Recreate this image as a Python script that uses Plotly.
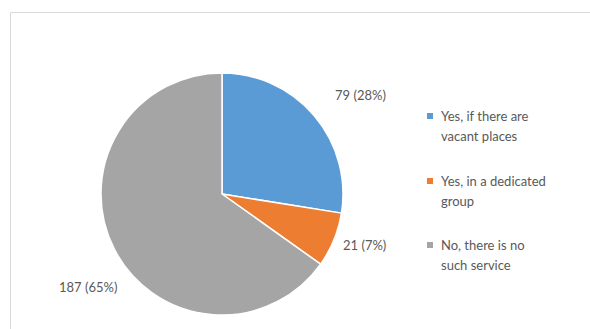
import math
import plotly.graph_objects as go

categories = ["Yes, if there are vacant places", "Yes, in a dedicated group", "No, there is no such service"]
legend_lines = [["Yes, if there are", "vacant places"], ["Yes, in a dedicated", "group"], ["No, there is no", "such service"]]
values = [79, 21, 187]
colors = ["#5B9BD5", "#ED7D31", "#A5A5A5"]

W, H = 590, 329
cx, cy, r = 222, 194, 121
TXT = "#595959"
FONT = "Lato"

fig = go.Figure(go.Pie(
    labels=categories, values=values, sort=False, direction="clockwise", rotation=0,
    marker=dict(colors=colors, line=dict(color="white", width=1.5)),
    textinfo="none", hoverinfo="label+value+percent", showlegend=False,
    domain=dict(x=[(cx - r) / W, (cx + r) / W], y=[1 - (cy + r) / H, 1 - (cy - r) / H]),
))

total = sum(values)
annotations = []
cum = 0
label_r = [1.41, 1.25, 1.35]
label_da = [5.0, -2.6, -7.3]
for i, v in enumerate(values):
    mid = (cum + v / 2) / total * 2 * math.pi + math.radians(label_da[i])
    cum += v
    pct = round(v / total * 100)
    lx = cx + r * label_r[i] * math.sin(mid)
    ly = cy - r * label_r[i] * math.cos(mid)
    annotations.append(dict(x=lx / W, y=1 - ly / H, xref="paper", yref="paper",
                            text=f"{v} ({pct}%)", showarrow=False,
                            font=dict(family=FONT, size=13, color=TXT),
                            xanchor="center", yanchor="middle"))

shapes = [dict(type="rect", xref="paper", yref="paper", x0=10.5 / W, x1=1.05,
               y0=-0.05, y1=1 - 12.5 / H, line=dict(color="#D9D9D9", width=1),
               fillcolor="rgba(0,0,0,0)", layer="below")]

leg_y = [116, 181, 245]
for i, lines in enumerate(legend_lines):
    y0 = leg_y[i]
    shapes.append(dict(type="rect", xref="paper", yref="paper",
                       x0=427 / W, x1=433 / W, y0=1 - (y0 + 3) / H, y1=1 - (y0 - 3) / H,
                       fillcolor=colors[i], line=dict(width=0)))
    for j, t in enumerate(lines):
        annotations.append(dict(x=439 / W, y=1 - (y0 + 20 * j) / H, xref="paper", yref="paper",
                                text=t, showarrow=False, xanchor="left", yanchor="middle",
                                font=dict(family=FONT, size=13, color=TXT)))

fig.update_layout(width=W, height=H, margin=dict(l=0, r=0, t=0, b=0),
                  paper_bgcolor="white", plot_bgcolor="white",
                  annotations=annotations, shapes=shapes)
fig.write_html("out.html")
